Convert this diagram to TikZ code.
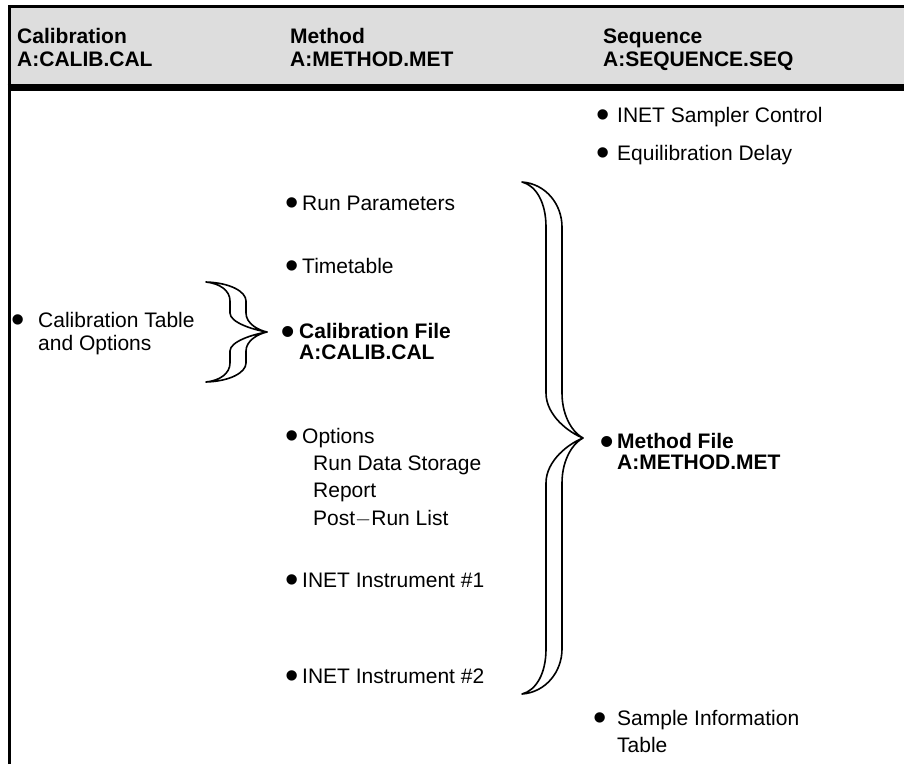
\documentclass[tikz,border=0pt]{standalone}
\usepackage{fontspec}
\setmainfont{Liberation Sans}
\definecolor{headgray}{RGB}{221,221,221}
\newcommand\bul[1]{\llap{\raisebox{-5.5pt}{\fontsize{38}{38}\selectfont\textbullet}\hspace{#1}}}

\begin{document}
\begin{tikzpicture}[
        x=1pt, y=-1pt,
        head/.style={anchor=base west, inner sep=0pt, align=left, font=\fontsize{21}{23}\selectfont\bfseries},
        item/.style={anchor=base west, inner sep=0pt, align=left, font=\fontsize{21}{23}\selectfont},
        bitem/.style={item, font=\fontsize{21}{20.5}\selectfont\bfseries},
        brace/.style={draw, line width=1.6pt, fill=white, line join=round},
        pics/curly/.style 2 args={code={
            \foreach \s in {1,-1}
                \draw[brace, yscale=\s] (-61,-#1)
                    .. controls (-37,-#1+0.04*#2) and (-21,-#1+0.5*#2) .. (-21,-#1+#2)
                    -- (-21,-#2) .. controls (-21,-0.45*#2) and (-9,-0.1*#2) .. (0,0)
                    .. controls (-14,-0.12*#2) and (-37,-0.5*#2) .. (-37,-#2)
                    -- (-37,-#1+#2) .. controls (-37,-#1+0.45*#2) and (-47,-#1+0.08*#2) .. cycle;
        }}
    ]
        \useasboundingbox (0,0) rectangle (904,764);

        % header band and frame
        \fill[headgray] (9,6) rectangle (904,87.5);
        \draw[line width=3pt] (9,764) -- (9,6) -- (904,6);
        \draw[line width=7pt] (7.5,87.5) -- (904,87.5);

        \node[head] (calhead) at (17,66) {Calibration\\A:CALIB.CAL};
        \node[head] (methead) at (290,66) {Method\\A:METHOD.MET};
        \node[head] (seqhead) at (603,66) {Sequence\\A:SEQUENCE.SEQ};

        % calibration column
        \node[item] (caltab) at (38,350) {\bul{13pt}Calibration Table\\and Options};

        % method column
        \node[item] (runpar) at (302,210) {\bul{3.5pt}Run Parameters};
        \node[item] (timetab) at (302,273) {\bul{3.5pt}Timetable};
        \node[bitem] (calfile) at (299,359) {\bul{4pt}Calibration File\\A:CALIB.CAL};
        \node[item] (options) at (302,443) {\bul{3.5pt}Options};
        \node[item] (rundata) at (313,470) {Run Data Storage};
        \node[item] (report) at (313,497) {Report};
        \node[item] (postrun) at (313,525) {Post$-$Run List};
        \node[item] (inet1) at (302,587) {\bul{3.5pt}INET Instrument \#1};
        \node[item] (inet2) at (302,683) {\bul{3.5pt}INET Instrument \#2};

        % sequence column
        \node[item] (sampler) at (617,122) {\bul{7.5pt}INET Sampler Control};
        \node[item] (equil) at (617,160) {\bul{7.5pt}Equilibration Delay};
        \node[bitem] (metfile) at (617,469) {\bul{3.5pt}Method File\\A:METHOD.MET};
        \node[item] (sample) at (617,752) {\bul{10.5pt}Sample Information\\[4pt]Table};

        % braces
        \coordinate (caltip) at (267,332);
        \coordinate (mettip) at (583,438);
        \pic at (caltip) {curly={50}{19}};
        \pic at (mettip) {curly={256}{45}};
    \end{tikzpicture}
\end{document}
